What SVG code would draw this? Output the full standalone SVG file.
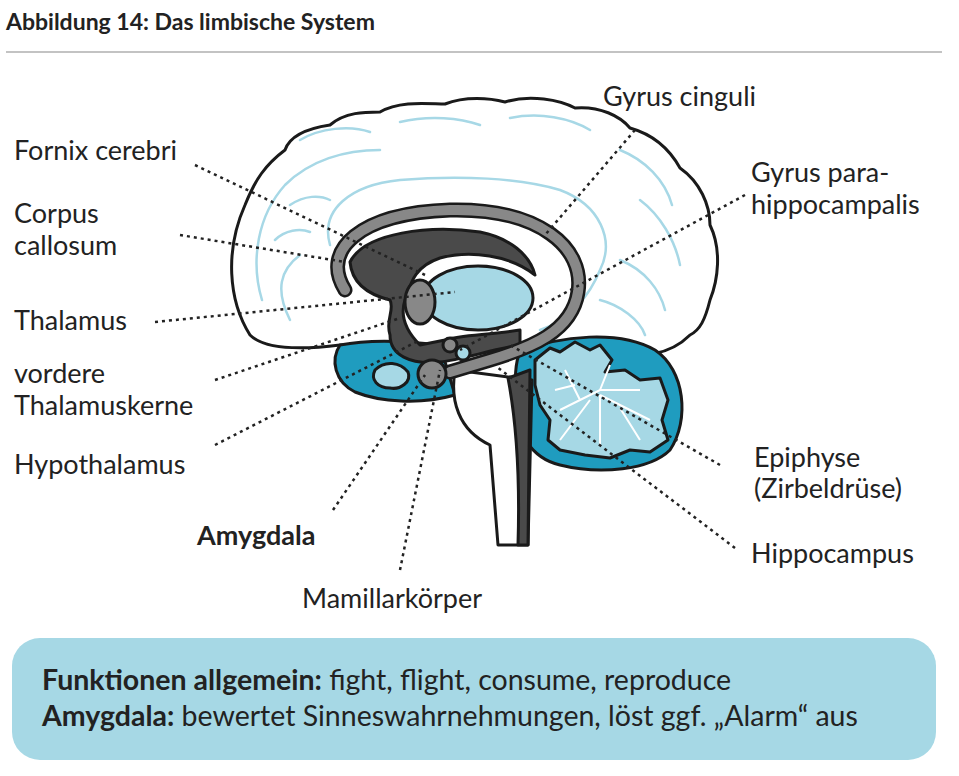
<svg xmlns="http://www.w3.org/2000/svg" width="959" height="776" viewBox="0 0 959 776">
<style>
.lbl{font-family:Lato,"Liberation Sans",sans-serif;font-size:27px;fill:#222}
.dot{stroke:#222;stroke-width:2.5;stroke-dasharray:3 4;fill:none}
.ol{stroke:#1a1a1a;stroke-width:3;stroke-linejoin:round}
.gy{fill:none;stroke:#a7d8e6;stroke-width:2.5;stroke-linecap:round}
.box{font-family:Lato,"Liberation Sans",sans-serif;font-size:28.5px;fill:#222}
</style>
<rect width="959" height="776" fill="#fff"/>
<text x="6" y="30" style="font-family:Lato,'Liberation Sans',sans-serif;font-size:23px;font-weight:bold;fill:#222">Abbildung 14: Das limbische System</text>
<line x1="6" y1="52" x2="942" y2="52" stroke="#888" stroke-width="1.2"/>
<g id="brain">
<path class="ol" fill="#fff" d="M250,335 C228,300 225,250 245,205 C255,180 265,165 285,150 C290,135 310,128 330,125 C345,112 365,112 380,112 C400,100 430,104 445,104 C465,96 490,98 505,102 C530,94 560,100 575,108 C600,106 620,116 630,128 C655,135 670,150 680,168 C700,182 710,205 710,225 C722,250 718,280 710,300 C705,320 700,330 690,335 C670,355 640,360 610,350 L520,345 L340,345 C300,350 265,350 250,335 Z"/>
<g class="gy">
<path d="M262,300 C250,260 258,215 285,185 C310,160 345,150 380,150"/>
<path d="M330,245 C320,210 350,185 400,180 C460,175 520,178 560,190 C600,205 615,240 600,270 C590,295 570,320 540,330"/>
<path d="M290,320 C275,290 280,270 300,255"/>
<path d="M300,140 C320,128 350,125 370,132 M400,122 C430,115 460,118 480,125 M510,118 C540,112 570,118 590,130 M620,150 C645,160 665,180 672,205 M640,200 C660,215 675,240 680,265 M620,260 C645,270 660,290 665,310 M600,300 C620,305 640,320 645,335 M290,205 C305,195 320,195 330,200 M275,240 C285,230 300,228 310,232"/>
</g>
<path class="ol" fill="#1f9cbf" d="M340,345 C365,340 400,340 440,345 L455,395 C420,405 380,402 355,392 C335,382 330,360 340,345 Z"/>
<path class="ol" fill="#a6d8e5" d="M375,370 C385,360 400,362 408,372 C412,382 400,390 390,388 C378,388 370,380 375,370 Z"/>
<path class="ol" fill="#1f9cbf" d="M520,352 C560,335 620,330 655,350 C685,370 690,420 670,450 C650,470 600,475 560,465 C530,458 515,430 515,400 C515,380 515,362 520,352 Z"/>
<path class="ol" stroke-width="2" fill="#a6d8e5" d="M535,360 L550,348 L560,352 L575,342 L590,350 L600,345 L612,360 L605,372 L625,370 L640,380 L660,378 L668,400 L662,420 L668,440 L650,452 L630,450 L610,458 L585,455 L560,450 L548,440 L550,420 L540,405 L535,385 Z"/>
<g stroke="#fff" stroke-width="2" fill="none">
<path d="M560,410 L600,390 L640,390 M600,390 L610,365 M580,400 L565,370 M600,395 L650,420 M600,395 L600,445 M590,400 L560,440 M620,408 L640,440 M575,385 L555,390"/>
</g>
<path class="ol" fill="#fff" d="M455,370 C450,400 458,430 490,445 L498,545 L528,545 L532,380 Z"/>
<path class="ol" fill="#4a4a4a" d="M508,378 L530,370 L528,545 L518,545 C520,480 516,420 508,378 Z"/>
<path class="ol" fill="#4a4a4a" d="M350,262 C365,232 430,225 480,232 C510,238 530,255 535,275 C510,255 470,250 440,258 C410,268 410,290 405,300 C400,315 405,330 420,345 L445,340 C460,335 490,335 520,330 L520,345 C490,350 460,360 440,362 C410,365 390,355 390,335 C385,320 395,310 390,300 C370,295 352,285 350,262 Z"/>
<ellipse class="ol" cx="478" cy="298" rx="55" ry="32" fill="#a6d8e5"/>
<ellipse class="ol" cx="420" cy="302" rx="15" ry="22" fill="#888"/>
<path d="M345,290 C320,250 360,213 450,210 C540,208 585,248 578,292 C572,332 530,348 490,360 L450,372" fill="none" stroke="#1a1a1a" stroke-width="15" stroke-linecap="round"/>
<path d="M345,290 C320,250 360,213 450,210 C540,208 585,248 578,292 C572,332 530,348 490,360 L450,372" fill="none" stroke="#888" stroke-width="10" stroke-linecap="round"/>
<circle class="ol" cx="432" cy="374" r="14" fill="#888"/>
<circle class="ol" cx="450" cy="345" r="7" fill="#888" stroke-width="2"/>
<circle class="ol" cx="463" cy="353" r="7" fill="#a6d8e5" stroke-width="2"/>
</g>
<g id="connectors">
<line class="dot" x1="195" y1="165" x2="425" y2="275"/>
<line class="dot" x1="180" y1="235" x2="345" y2="262"/>
<line class="dot" x1="155" y1="322" x2="455" y2="292"/>
<line class="dot" x1="215" y1="380" x2="400" y2="318"/>
<line class="dot" x1="215" y1="445" x2="420" y2="340"/>
<line class="dot" x1="333" y1="510" x2="425" y2="375"/>
<line class="dot" x1="400" y1="570" x2="440" y2="370"/>
<line class="dot" x1="635" y1="130" x2="545" y2="235"/>
<line class="dot" x1="745" y1="195" x2="460" y2="350"/>
<line class="dot" x1="720" y1="465" x2="510" y2="345"/>
<line class="dot" x1="735" y1="548" x2="497" y2="367"/>
</g>
<g id="labels">
<text class="lbl" x="14" y="160">Fornix cerebri</text>
<text class="lbl" x="14" y="223">Corpus</text>
<text class="lbl" x="14" y="255">callosum</text>
<text class="lbl" x="14" y="330">Thalamus</text>
<text class="lbl" x="14" y="383">vordere</text>
<text class="lbl" x="14" y="415">Thalamuskerne</text>
<text class="lbl" x="14" y="474">Hypothalamus</text>
<text class="lbl" x="197" y="545" font-weight="bold">Amygdala</text>
<text class="lbl" x="302" y="608">Mamillarkörper</text>
<text class="lbl" x="603" y="106">Gyrus cinguli</text>
<text class="lbl" x="751" y="182">Gyrus para-</text>
<text class="lbl" x="751" y="214">hippocampalis</text>
<text class="lbl" x="754" y="467">Epiphyse</text>
<text class="lbl" x="754" y="498">(Zirbeldrüse)</text>
<text class="lbl" x="751" y="563">Hippocampus</text>
</g>
<g id="infobox">
<rect x="12" y="638" width="924" height="122" rx="28" fill="#a6d8e5"/>
<text class="box" x="42" y="690"><tspan font-weight="bold">Funktionen allgemein:</tspan> fight, flight, consume, reproduce</text>
<text class="box" x="42" y="726"><tspan font-weight="bold">Amygdala:</tspan> bewertet Sinneswahrnehmungen, löst ggf. „Alarm“ aus</text>
</g>
</svg>
